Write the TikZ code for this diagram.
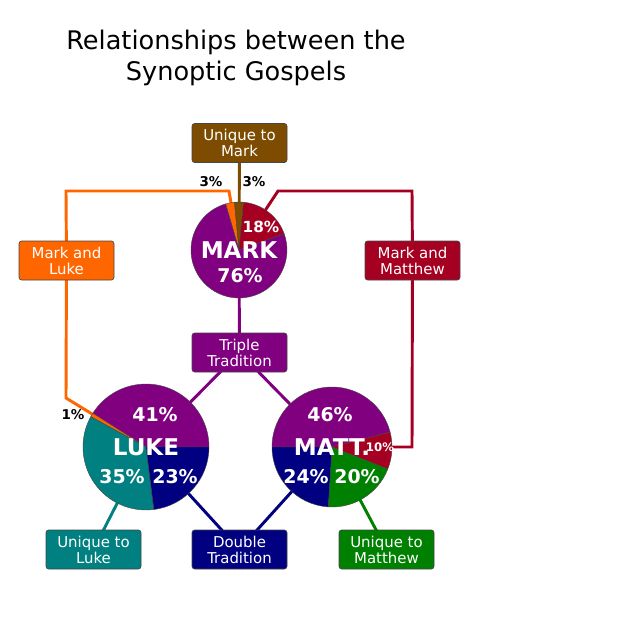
\documentclass[tikz,border=0pt]{standalone}
\usepackage{fontspec}
\setmainfont{DejaVu Sans}
\definecolor{cbrown}{RGB}{125,76,0}
\definecolor{corange}{RGB}{255,102,0}
\definecolor{cred}{RGB}{165,0,33}
\definecolor{cpurple}{RGB}{128,0,128}
\definecolor{cteal}{RGB}{0,128,128}
\definecolor{cnavy}{RGB}{0,0,128}
\definecolor{cgreen}{RGB}{0,128,0}
\definecolor{cstroke}{RGB}{70,70,70}
\newcommand\pieslice[5]{%
  \filldraw[fill=#5, draw=cstroke, line width=0.3pt, line join=round]
    (#1) -- ++(#3:#2) arc[start angle=#3, end angle=#4, radius=#2] -- cycle;}
\tikzset{
  box/.style={draw=cstroke, line width=0.5pt, rounded corners=2pt,
    minimum width=71.25pt, minimum height=29.25pt, inner sep=0pt,
    text=white, align=center, font=\fontsize{11.2}{12}\selectfont},
  conn/.style={line width=2.2pt, line join=miter},
  big/.style={text=white, font=\fontsize{17.3}{18}\selectfont\bfseries, inner sep=0pt},
  pct/.style={text=white, font=\fontsize{14.2}{15}\selectfont\bfseries, inner sep=0pt},
  outpct/.style={text=black, font=\fontsize{10.1}{11}\selectfont\bfseries, inner sep=0pt}
}
\begin{document}
\begin{tikzpicture}[x=0.75pt,y=0.75pt]
\useasboundingbox (0,0) rectangle (640,-640);
% title
\node[align=center, font=\fontsize{19.2}{23.6}\selectfont, inner sep=0pt] (title) at (236,-58)
  {Relationships between the\\Synoptic Gospels};
% centres
\coordinate (markc) at (239,-250);
\coordinate (lukec) at (146,-447);
\coordinate (mattc) at (332,-447);
% boxes (positions)
\path (239.5,-143) coordinate (umpos)
      (66.5,-260.5) coordinate (mlpos)
      (412.5,-260.5) coordinate (mmpos)
      (239.5,-352.5) coordinate (ttpos)
      (93.5,-549.5) coordinate (ulpos)
      (239.5,-549.5) coordinate (dtpos)
      (386.5,-549.5) coordinate (umtpos);
\coordinate (olt) at (66,-191);
\coordinate (ort) at (229,-191);
\coordinate (olb) at (66,-398);
\coordinate (rlt) at (278,-191);
\coordinate (rrt) at (412,-191);
\coordinate (rrb) at (412,-447);
% connectors (under everything)
\draw[conn, cbrown] (umpos) -- (markc);
\draw[conn, corange] (mlpos) -- (olt) -- (ort) -- (markc);
\draw[conn, corange] (mlpos) -- (olb) -- (lukec);
\draw[conn, cred] (mmpos) -- (rrt) -- (rlt) -- (markc);
\draw[conn, cred] (mmpos) -- (rrb) -- (mattc);
\draw[conn, cpurple] (markc) -- (ttpos);
\draw[conn, cpurple] (ttpos) -- (lukec);
\draw[conn, cpurple] (ttpos) -- (mattc);
\draw[conn, cteal] (ulpos) -- (lukec);
\draw[conn, cnavy] (dtpos) -- (lukec);
\draw[conn, cnavy] (dtpos) -- (mattc);
\draw[conn, cgreen] (umtpos) -- (mattc);
% Mark pie
\pieslice{markc}{48}{106.2}{95.4}{corange}
\pieslice{markc}{48}{95.4}{84.6}{cbrown}
\pieslice{markc}{48}{84.6}{19.8}{cred}
\pieslice{markc}{48}{19.8}{-253.8}{cpurple}
% Luke pie
\pieslice{lukec}{63}{0}{147.6}{cpurple}
\pieslice{lukec}{63}{147.6}{151.2}{corange}
\pieslice{lukec}{63}{151.2}{277.2}{cteal}
\pieslice{lukec}{63}{277.2}{360}{cnavy}
% Matthew pie
\pieslice{mattc}{60}{180}{14.4}{cpurple}
\pieslice{mattc}{60}{14.4}{-21.6}{cred}
\pieslice{mattc}{60}{-21.6}{-93.6}{cgreen}
\pieslice{mattc}{60}{-93.6}{-180}{cnavy}
% boxes
\node[box, fill=cbrown] (um) at (umpos) {Unique to\\Mark};
\node[box, fill=corange] (ml) at (mlpos) {Mark and\\Luke};
\node[box, fill=cred] (mm) at (mmpos) {Mark and\\Matthew};
\node[box, fill=cpurple] (tt) at (ttpos) {Triple\\Tradition};
\node[box, fill=cteal] (ul) at (ulpos) {Unique to\\Luke};
\node[box, fill=cnavy] (dt) at (dtpos) {Double\\Tradition};
\node[box, fill=cgreen] (umt) at (umtpos) {Unique to\\Matthew};
% pie labels
\node[big] (markl) at (239,-250) {MARK};
\node[pct] (m76) at (240,-276) {76\%};
\node[pct, font=\fontsize{11.5}{12}\selectfont\bfseries] (m18) at (261,-227) {18\%};
\node[outpct] (m3a) at (211,-182) {3\%};
\node[outpct] (m3b) at (254,-182) {3\%};
\node[big] (lukel) at (146,-447) {LUKE};
\node[pct] (l41) at (155,-415) {41\%};
\node[pct] (l35) at (122,-477) {35\%};
\node[pct] (l23) at (175,-477) {23\%};
\node[outpct] (l1) at (73,-415) {1\%};
\node[big] (mattl) at (332,-447) {MATT.};
\node[pct] (t46) at (330,-415) {46\%};
\node[pct] (t24) at (306,-477) {24\%};
\node[pct] (t20) at (357,-477) {20\%};
\node[pct, font=\fontsize{8.8}{9}\selectfont\bfseries] (t10) at (380,-447) {10\%};
\end{tikzpicture}
\end{document}
